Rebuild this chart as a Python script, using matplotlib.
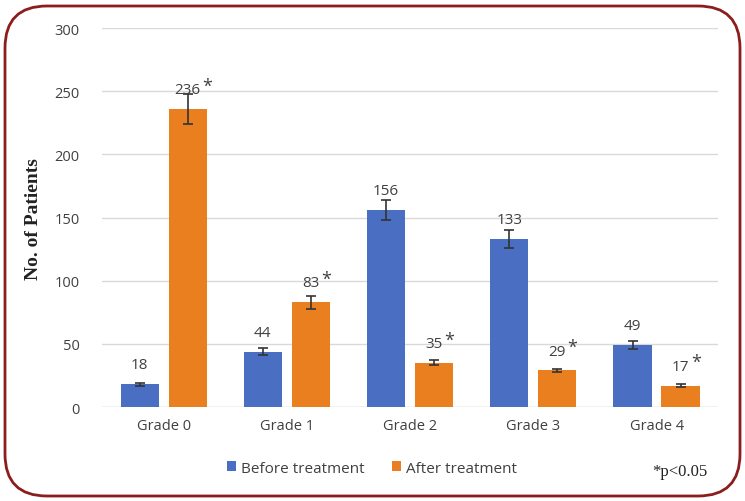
import matplotlib.pyplot as plt
import numpy as np
from matplotlib.patches import FancyBboxPatch

grades = ["Grade 0", "Grade 1", "Grade 2", "Grade 3", "Grade 4"]
before = [18, 44, 156, 133, 49]
after = [236, 83, 35, 29, 17]
before_err = [1, 3, 8, 7, 3]
after_err = [12, 5, 2, 1.5, 1]
yticks = [0, 50, 100, 150, 200, 250, 300]

blue = "#4a6fc2"
orange = "#e97f1f"
sans = ["Open Sans", "DejaVu Sans"]
serif = ["Liberation Serif", "DejaVu Serif"]
grey = "#404040"

fig = plt.figure(figsize=(7.45, 5.02), dpi=100)
ax = fig.add_axes([0.137, 0.187, 0.827, 0.755])

x = np.arange(len(grades))
w = 0.31
off = 0.195
ebar = dict(ecolor="#333333", elinewidth=1.2, capsize=3.5, capthick=1.2)
ax.bar(x - off, before, w, color=blue, yerr=before_err, error_kw=ebar, label="Before treatment", zorder=2)
ax.bar(x + off, after, w, color=orange, yerr=after_err, error_kw=ebar, label="After treatment", zorder=2)

# data labels sit a fixed distance above the bar top (like Excel), not above the error bar
for i in range(len(grades)):
    ax.annotate(str(before[i]), (x[i] - off, before[i]), xytext=(0, 14),
                textcoords="offset points", ha="center", va="center",
                fontsize=11, color=grey, family=sans, zorder=3)
    t = ax.annotate(str(after[i]), (x[i] + off, after[i]), xytext=(0, 14),
                    textcoords="offset points", ha="center", va="center",
                    fontsize=11, color=grey, family=sans, zorder=3)
    ax.annotate("*", xy=(1, 1), xycoords=t, xytext=(1, 4), textcoords="offset points",
                ha="left", va="top", fontsize=13, color=grey, family=sans)

ax.set_xlim(-0.5, 4.5)
ax.set_ylim(0, 300)
ax.set_yticks(yticks)
ax.set_xticks(x)
ax.set_xticklabels(grades, family=sans, fontsize=10.5, color=grey)
for lab in ax.get_yticklabels():
    lab.set_family(sans)
    lab.set_fontsize(10.5)
    lab.set_color(grey)
ax.tick_params(length=0, pad=16)
ax.tick_params(axis="x", pad=8)
ax.grid(axis="y", color="#d9d9d9", linewidth=1, zorder=0)
for s in ax.spines.values():
    s.set_visible(False)
ax.axhline(0, color="#d9d9d9", linewidth=1, zorder=1)
ax.set_ylabel("No. of Patients", family=serif, fontsize=14, fontweight="bold",
              color="#222222", labelpad=9)

ax.legend(loc="upper center", bbox_to_anchor=(0.438, -0.105), ncol=2, frameon=False,
          prop={"family": sans, "size": 11}, handlelength=0.6, handleheight=0.6,
          handletextpad=0.3, columnspacing=1.8, labelcolor=grey)
fig.text(0.913, 0.06, "*p<0.05", family=serif, fontsize=12, color="#222222", ha="center", va="center")

border = FancyBboxPatch((0.05, 0.05), 7.35, 4.9, boxstyle="round,pad=0,rounding_size=0.42",
                        transform=fig.dpi_scale_trans, fill=False, edgecolor="#8b1d1d", linewidth=2)
fig.patches.append(border)

fig.savefig("out.png", dpi=100)
